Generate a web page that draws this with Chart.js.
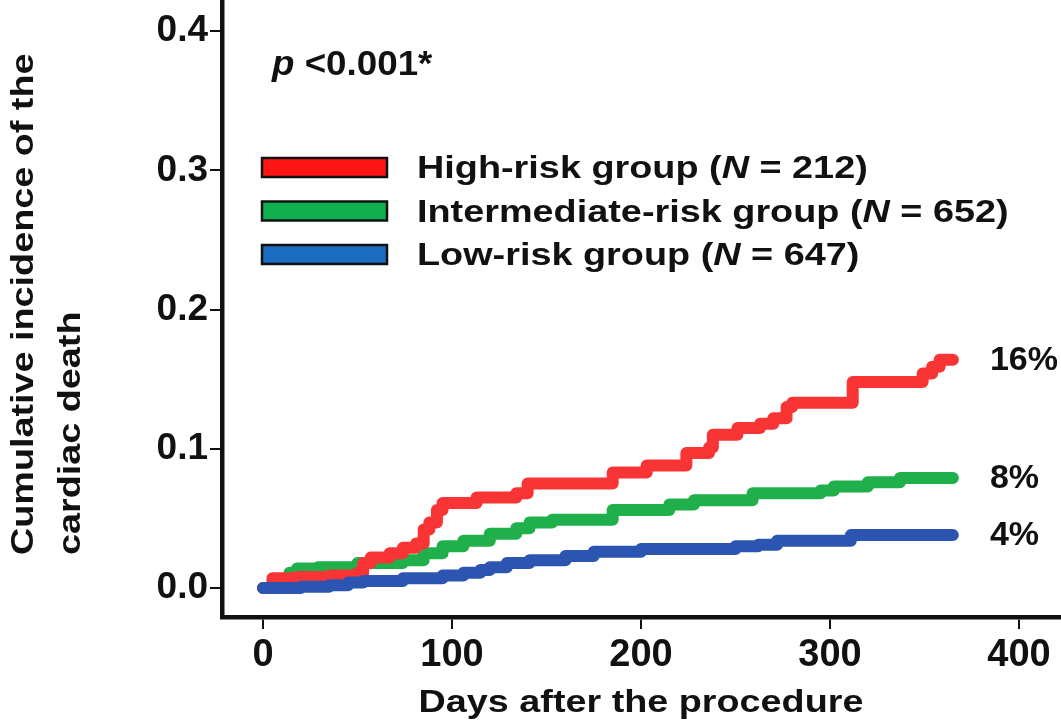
<!DOCTYPE html>
<html>
<head>
<meta charset="utf-8">
<script src="https://cdn.jsdelivr.net/npm/chart.js@4.4.1/dist/chart.umd.min.js"></script>
<style>
  html, body { margin: 0; padding: 0; background: #fff; }
  #wrap { width: 1061px; height: 725px; position: relative; }
</style>
</head>
<body>
<div id="wrap"><canvas id="kmChart"></canvas></div>
<script>
// groups and sample sizes
const groupNames = ['High-risk group', 'Intermediate-risk group', 'Low-risk group'];
const groupN = [212, 652, 647];
const endLabels = ['16%', '8%', '4%'];

// cumulative incidence (days, value)
const highDays = [0, 5, 18, 35, 50, 53, 57, 67, 74, 81, 85, 88, 92, 95, 113, 134, 140, 185, 203, 224, 236, 238, 251, 263, 270, 277, 280, 312, 349, 354, 358, 365];
const highCum = [0, 0.007, 0.008, 0.009, 0.011, 0.018, 0.022, 0.025, 0.029, 0.032, 0.042, 0.047, 0.056, 0.061, 0.065, 0.068, 0.075, 0.083, 0.088, 0.097, 0.101, 0.110, 0.115, 0.118, 0.122, 0.130, 0.133, 0.148, 0.154, 0.159, 0.164, 0.164];

const interDays = [0, 7, 14, 18, 29, 50, 74, 85, 95, 106, 120, 134, 141, 153, 185, 215, 228, 259, 295, 302, 320, 337, 365];
const interCum = [0, 0.004, 0.011, 0.014, 0.015, 0.018, 0.020, 0.025, 0.030, 0.034, 0.039, 0.043, 0.047, 0.049, 0.056, 0.060, 0.063, 0.068, 0.070, 0.073, 0.076, 0.079, 0.079];

const lowDays = [0, 20, 35, 45, 53, 74, 95, 106, 115, 120, 129, 141, 160, 175, 200, 250, 262, 272, 311, 365];
const lowCum = [0, 0.001, 0.002, 0.004, 0.005, 0.007, 0.009, 0.011, 0.013, 0.015, 0.018, 0.020, 0.023, 0.026, 0.028, 0.030, 0.031, 0.034, 0.038, 0.038];

const xTicks = [0, 100, 200, 300, 400];
const yTicks = [0, 0.1, 0.2, 0.3, 0.4];

const lineColors = ['#f93434', '#1fb04c', '#2c55b2'];
const boxColors = ['#ff1414', '#10b050', '#1c6cc2'];

const FONT = '"Liberation Sans", Arial, sans-serif';

function toPoints(days, vals) {
    return days.map((d, i) => ({ x: d, y: vals[i] }));
}

// draws text pieces (some italic), stretched horizontally by sx
function drawParts(ctx, parts, x, y, size, sx, align) {
    ctx.save();
    let total = 0;
    parts.forEach(p => {
        ctx.font = (p.italic ? 'italic ' : '') + 'bold ' + size + 'px ' + FONT;
        total += ctx.measureText(p.text).width;
    });
    ctx.translate(x, y);
    ctx.scale(sx, 1);
    let cx = align === 'center' ? -total / 2 : 0;
    parts.forEach(p => {
        ctx.font = (p.italic ? 'italic ' : '') + 'bold ' + size + 'px ' + FONT;
        ctx.fillText(p.text, cx, 0);
        cx += ctx.measureText(p.text).width;
    });
    ctx.restore();
}

const annotations = {
    id: 'annotations',
    afterDraw(chart) {
        const { ctx } = chart;
        const xs = chart.scales.x, ys = chart.scales.y;
        ctx.save();
        ctx.fillStyle = '#111';
        ctx.textBaseline = 'alphabetic';
        ctx.textAlign = 'left';

        // p value
        drawParts(ctx, [{ text: 'p', italic: true }, { text: ' <0.001*' }], 272, 75, 35, 1.05);

        // legend
        groupNames.forEach((name, i) => {
            const top = 158 + i * 43.5;
            ctx.fillStyle = boxColors[i];
            ctx.fillRect(262, top, 125, 19);
            ctx.lineWidth = 2.5;
            ctx.strokeStyle = '#111';
            ctx.strokeRect(262, top, 125, 19);
            ctx.fillStyle = '#111';
            drawParts(ctx, [
                { text: name + ' (' },
                { text: 'N', italic: true },
                { text: ' = ' + groupN[i] + ')' }
            ], 417, top + 20, 31, 1.22);
        });

        // end percentages
        chart.data.datasets.forEach((ds, i) => {
            const last = ds.data[ds.data.length - 1];
            ctx.font = 'bold 34px ' + FONT;
            ctx.textBaseline = 'middle';
            ctx.fillText(endLabels[i], xs.getPixelForValue(last.x) + 37, ys.getPixelForValue(last.y) + 1);
        });

        // axis titles
        ctx.textBaseline = 'alphabetic';
        drawParts(ctx, [{ text: 'Days after the procedure' }], 641, 712, 32, 1.18, 'center');

        ctx.save();
        ctx.translate(33, 555);
        ctx.rotate(-Math.PI / 2);
        drawParts(ctx, [{ text: 'Cumulative incidence of the' }], 0, 0, 32, 1.18);
        ctx.restore();
        ctx.save();
        ctx.translate(80, 555);
        ctx.rotate(-Math.PI / 2);
        drawParts(ctx, [{ text: 'cardiac death' }], 0, 0, 32, 1.18);
        ctx.restore();

        ctx.restore();
    }
};

const series = [toPoints(highDays, highCum), toPoints(interDays, interCum), toPoints(lowDays, lowCum)];
const drawOrder = [1, 2, 0];

new Chart(document.getElementById('kmChart'), {
    type: 'line',
    data: {
        datasets: series.map((pts, i) => ({
            label: groupNames[i],
            data: pts,
            borderColor: lineColors[i],
            borderWidth: 12,
            borderCapStyle: 'round',
            borderJoinStyle: 'round',
            pointRadius: 0,
            stepped: true,
            fill: false,
            order: drawOrder[i]
        }))
    },
    options: {
        responsive: true,
        maintainAspectRatio: false,
        animation: false,
        layout: { padding: 0 },
        plugins: {
            legend: { display: false },
            tooltip: { enabled: false }
        },
        scales: {
            x: {
                type: 'linear',
                min: -21.7,
                max: 422.2,
                afterBuildTicks: s => { s.ticks = xTicks.map(v => ({ value: v })); },
                afterFit: s => { s.height = 108; s.paddingLeft = 0; s.paddingRight = 0; },
                ticks: {
                    color: '#111',
                    padding: 4,
                    font: { family: FONT, size: 38, weight: 'bold' },
                    callback: v => String(v)
                },
                grid: { drawOnChartArea: false, drawTicks: true, tickLength: 12, color: '#111', lineWidth: 2 },
                border: { display: true, color: '#111', width: 4.5 }
            },
            y: {
                min: -0.0208,
                max: 0.4223,
                afterBuildTicks: s => { s.ticks = yTicks.map(v => ({ value: v })); },
                afterFit: s => { s.width = 222; s.paddingTop = 0; s.paddingBottom = 0; },
                ticks: {
                    color: '#111',
                    padding: 2,
                    font: { family: FONT, size: 37, weight: 'bold' },
                    callback: v => Number(v).toFixed(1)
                },
                grid: { drawOnChartArea: false, drawTicks: true, tickLength: 12, color: '#111', lineWidth: 2 },
                border: { display: true, color: '#111', width: 4.5 }
            }
        }
    },
    plugins: [annotations]
});
</script>
</body>
</html>
